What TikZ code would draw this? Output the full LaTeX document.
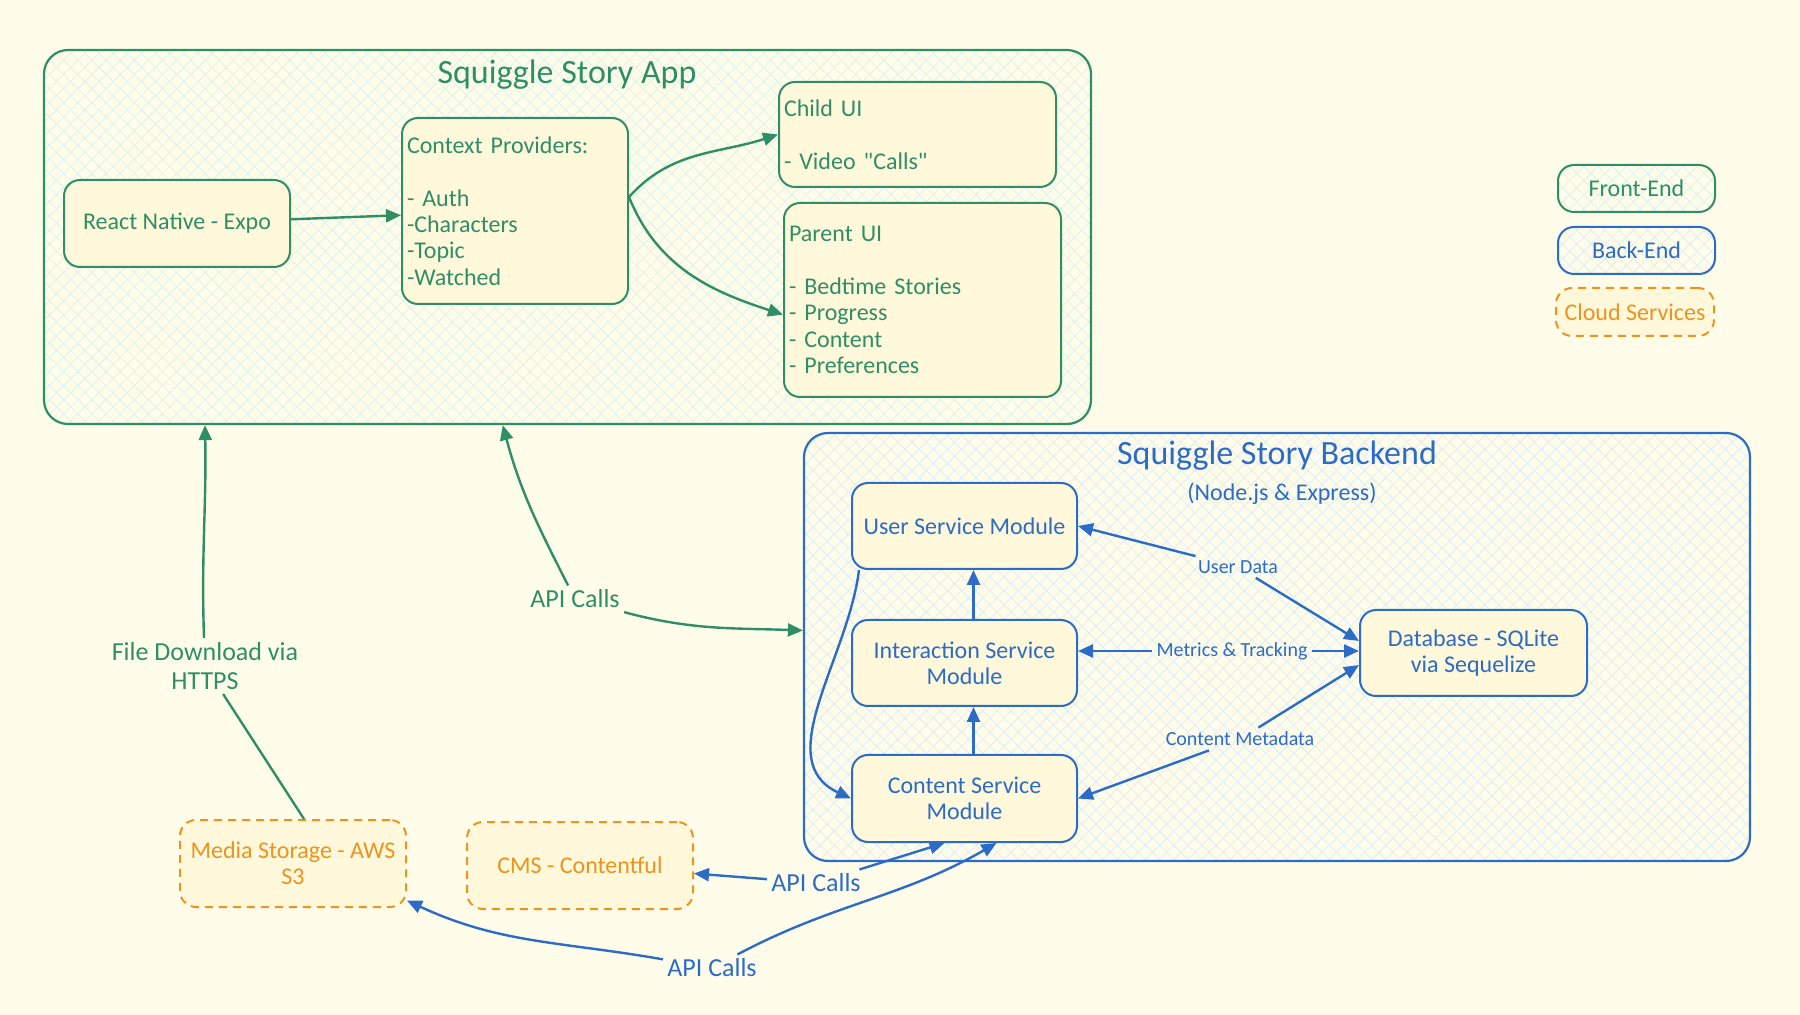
\documentclass[tikz,border=0pt]{standalone}
\usepackage{fontspec}
\setmainfont{Carlito}
\usetikzlibrary{arrows.meta,patterns.meta}
\definecolor{bgcol}{HTML}{FFFDE9}
\definecolor{boxcol}{HTML}{FFF8DA}
\definecolor{fegreen}{HTML}{2F8E66}
\definecolor{beblue}{HTML}{2C6BC6}
\definecolor{cloudor}{HTML}{EC9320}
\definecolor{hatchgr}{HTML}{DCF3EE}
\definecolor{hatchbl}{HTML}{DDEDF7}

\begin{document}
\begin{tikzpicture}[x=0.5pt,y=-0.5pt,
  hatch/.style={preaction={fill=bgcol},
    preaction={pattern={Lines[angle=45,distance=5pt,line width=0.4pt]},pattern color=#1},
    preaction={pattern={Lines[angle=-45,distance=5pt,line width=0.4pt]},pattern color=#1}},
  group/.style={rounded corners=12pt,line width=1.1pt,hatch=#1,inner sep=0pt},
  box/.style={rounded corners=8pt,line width=1pt,fill=boxcol,inner sep=2.5pt,font=\fontsize{12}{13.2}\selectfont},
  fe/.style={box,draw=fegreen,text=fegreen},
  be/.style={box,draw=beblue,text=beblue},
  cloud/.style={box,draw=cloudor,text=cloudor,dash pattern=on 4pt off 3pt},
  felbl/.style={text=fegreen,inner sep=2pt,font=\fontsize{13}{14.5}\selectfont,align=center},
  belbl/.style={text=beblue,inner sep=2pt,font=\fontsize{10}{12}\selectfont},
  apilbl/.style={text=beblue,inner sep=2pt,font=\fontsize{13}{14.5}\selectfont},
  fearr/.style={draw=fegreen,line width=1.2pt,-{Triangle[length=7.5pt,width=6.5pt]}},
  bearr/.style={draw=beblue,line width=1.2pt,-{Triangle[length=7.5pt,width=6.5pt]}},
  legend/.style={box,minimum width=78.5pt,minimum height=23.5pt,font=\fontsize{12}{14}\selectfont}]
\fill[bgcol] (0,0) rectangle (1800,1015);
\useasboundingbox (0,0) rectangle (1800,1015);

\node[group=hatchgr,draw=fegreen,minimum width=523.5pt,minimum height=187pt] (app) at (567.5,237) {};
\node[group=hatchbl,draw=beblue,minimum width=473pt,minimum height=214pt] (backend) at (1277,647) {};

\node[text=fegreen,font=\fontsize{17}{20}\selectfont] (apptitle) at (567,75) {Squiggle Story App};
\node[text=beblue,font=\fontsize{17}{20}\selectfont] (betitle) at (1277,456) {Squiggle Story Backend};
\node[text=beblue,font=\fontsize{12}{14}\selectfont] (besub) at (1282,494) {(Node.js \& Express)};

\node[fe,minimum width=113pt,minimum height=43.5pt] (react) at (177,223.5) {React Native - Expo};
\node[fe,minimum height=93pt,text width=108pt,align=left] (ctx) at (515,211)
  {Context Providers:\\[13.2pt]- Auth\\-Characters\\-Topic\\-Watched};
\node[fe,minimum height=52.5pt,text width=133.5pt,align=left] (child) at (917.5,134.5)
  {Child UI\\[13.2pt]- Video \textquotedbl Calls\textquotedbl};
\node[fe,minimum height=97pt,text width=133.5pt,align=left] (parent) at (922.5,300)
  {Parent UI\\[13.2pt]- Bedtime Stories\\- Progress\\- Content\\- Preferences};

\node[be,minimum width=112.5pt,minimum height=43pt] (user) at (964.5,526) {User Service Module};
\node[be,minimum width=112.5pt,minimum height=43pt,align=center] (inter) at (964.5,663) {Interaction Service\\Module};
\node[be,minimum width=112.5pt,minimum height=43.5pt,align=center] (content) at (964.5,798.5) {Content Service\\Module};
\node[be,minimum width=113.5pt,minimum height=43pt,align=center] (db) at (1473.5,653) {Database - SQLite\\via Sequelize};

\node[cloud,minimum width=113pt,minimum height=43.5pt,align=center] (media) at (293,863.5) {Media Storage - AWS\\S3};
\node[cloud,minimum width=113pt,minimum height=43.5pt] (cms) at (580,865.5) {CMS - Contentful};

\node[legend,draw=fegreen,text=fegreen,hatch=hatchgr,fill=none] (lgfe) at (1636.5,188.5) {Front-End};
\node[legend,draw=beblue,text=beblue,hatch=hatchbl,fill=none] (lgbe) at (1636.5,250.5) {Back-End};
\node[legend,cloud,minimum width=79pt,minimum height=24pt] (lgcloud) at (1635,312) {Cloud Services};

\draw[fearr] (react) -- (ctx);
\draw[fearr] (ctx.7) to[out=48,in=198] (child.west);
\draw[fearr] (ctx.7) to[out=-68,in=162] (parent.186);

\node[felbl] (fdl) at (205,666) {File Download via\\HTTPS};
\draw[fearr] (fdl) to[out=92,in=-89] (fdl.north |- app.south);
\draw[draw=fegreen,line width=1.2pt] (fdl) -- ([xshift=5.5pt]media.north);

\node[felbl] (api) at (575,599) {API Calls};
\draw[fearr] (api) to[out=117,in=-75] (app.251);
\draw[fearr] (api) to[out=-15,in=178] (backend.178);

\draw[bearr] ([xshift=4pt]user.south west) to[out=-97,in=155] (content.west);
\draw[bearr] ([xshift=4.5pt]content.north) -- ([xshift=4.5pt]inter.south);
\draw[bearr] ([xshift=4.5pt]inter.north) -- ([xshift=4.5pt]user.south);

\node[belbl] (ud) at (1238,567) {User Data};
\node[belbl] (mt) at (1232,651) {Metrics \& Tracking};
\node[belbl] (cm) at (1240,739) {Content Metadata};
\draw[bearr] (ud) -- (user.east);
\draw[bearr] (ud) -- (db.174);
\draw[bearr] (mt) -- (mt -| inter.east);
\draw[bearr] (mt) -- (mt -| db.west);
\draw[bearr] (cm) -- (db.186);
\draw[bearr] (cm) -- (content.east);

\node[apilbl] (api1) at (816,883) {API Calls};
\draw[bearr] (api1) -- ([yshift=-4pt]cms.east);
\draw[bearr] (api1) -- ([xshift=-10pt]content.south);

\node[apilbl] (api2) at (712,968) {API Calls};
\draw[bearr] (api2) to[out=170,in=-25] (media.-18);
\draw[bearr] (api2) to[out=28,in=-150] ([xshift=16pt]content.south);
\end{tikzpicture}
\end{document}
